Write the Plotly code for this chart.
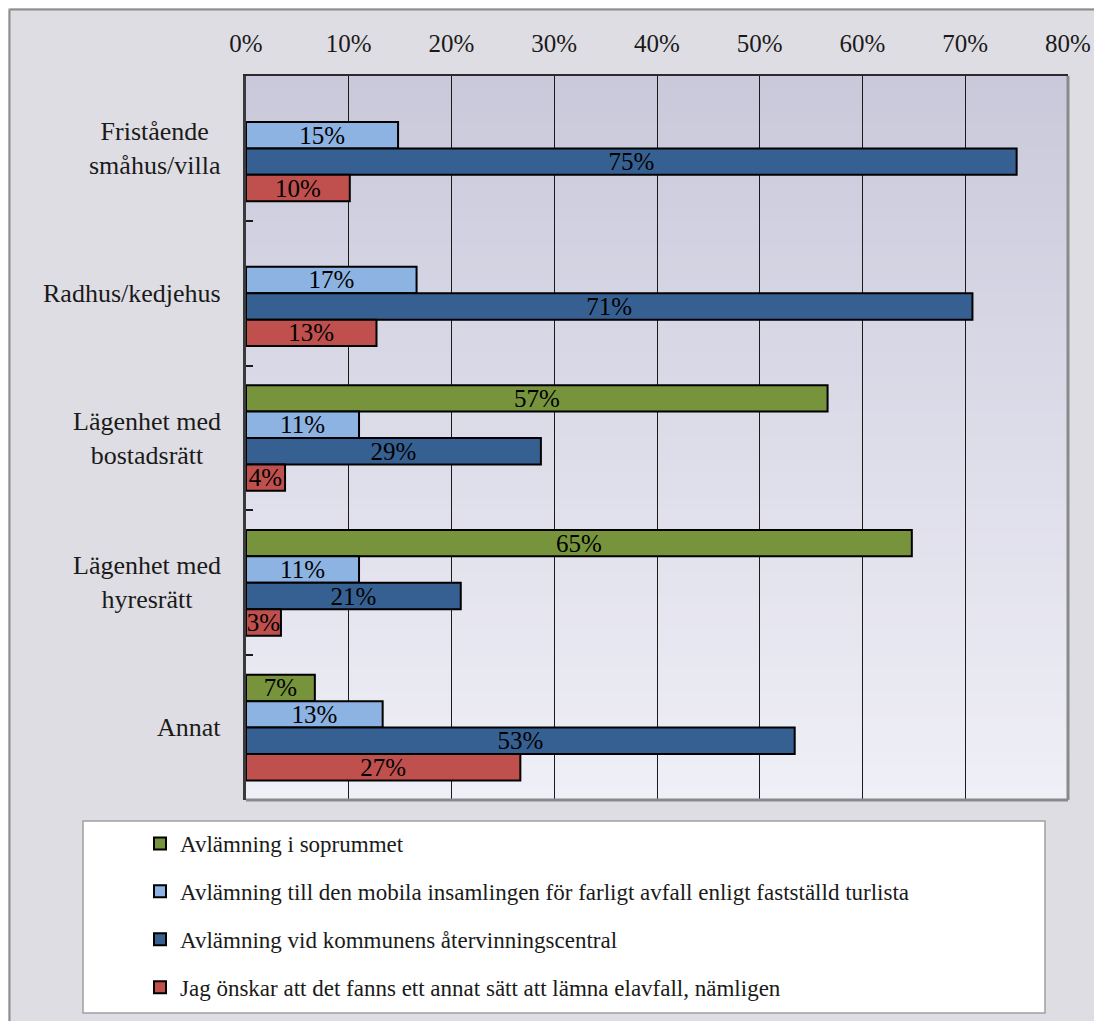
import plotly.graph_objects as go

categories = ["Fristående<br>småhus/villa", "Radhus/kedjehus", "Lägenhet med<br>bostadsrätt",
              "Lägenhet med<br>hyresrätt", "Annat"]
series_names = ["Avlämning i soprummet",
                "Avlämning till den mobila insamlingen för farligt avfall enligt fastställd turlista",
                "Avlämning vid kommunens återvinningscentral",
                "Jag önskar att det fanns ett annat sätt att lämna elavfall, nämligen"]
soprum = [None, None, 56.6, 64.8, 6.7]
mobila = [14.8, 16.6, 11.0, 11.0, 13.3]
atervinning = [75.0, 70.7, 28.7, 20.9, 53.4]
annat_satt = [10.1, 12.7, 3.8, 3.4, 26.7]
series_values = [soprum, mobila, atervinning, annat_satt]
colors = ["#77933c", "#8db3e2", "#366092", "#c0504d"]
x_ticks = [0, 10, 20, 30, 40, 50, 60, 70, 80]
x_tick_labels = ["0%", "10%", "20%", "30%", "40%", "50%", "60%", "70%", "80%"]

FONT = "Liberation Serif"
W, H = 1102, 1021
OFF = 8  # page body margin
# plot area in page pixels: left 246, right 1068, top 76, bottom 800
L, R, T, B = 246 - OFF, W - (1068 - OFF), 76 - OFF, H - (800 - OFF)
pw, ph = W - L - R, H - T - B

def px_x(p):
    return (p - OFF - L) / pw

def px_y(p):
    return (H - B - (p - OFF)) / ph

fig = go.Figure()
for name, vals, col in zip(series_names, series_values, colors):
    fig.add_trace(go.Bar(
        y=categories, x=vals, name=name, orientation="h",
        marker=dict(color=col, line=dict(color="black", width=2)),
        texttemplate="%{x:.0f}%", textposition="inside", insidetextanchor="middle",
        constraintext="none", cliponaxis=False,
        textfont=dict(family=FONT, size=25, color="black"),
        legendgroup=name,
    ))

shapes = []
# outer frame border (top & left edge)
shapes.append(dict(type="line", xref="paper", yref="paper", x0=px_x(9.5), x1=px_x(1110),
                   y0=px_y(9.5), y1=px_y(9.5), line=dict(color="#8c8c8c", width=2), layer="below"))
shapes.append(dict(type="line", xref="paper", yref="paper", x0=px_x(9.5), x1=px_x(9.5),
                   y0=px_y(9.5), y1=px_y(1040), line=dict(color="#8c8c8c", width=2), layer="below"))
# gradient plot background
n = 60
c0 = (202, 201, 219)
c1 = (239, 239, 247)
for i in range(n):
    t = i / (n - 1)
    c = tuple(round(a + (b - a) * t) for a, b in zip(c0, c1))
    shapes.append(dict(type="rect", xref="paper", yref="paper", x0=0, x1=1,
                       y0=1 - (i + 1) / n, y1=1 - i / n + 0.001,
                       fillcolor="rgb(%d,%d,%d)" % c, line=dict(width=0), layer="below"))
# right/bottom gray border
shapes.append(dict(type="line", xref="paper", yref="paper", x0=1, x1=1, y0=0, y1=1,
                   line=dict(color="#8a8a8a", width=3)))
shapes.append(dict(type="line", xref="paper", yref="paper", x0=0, x1=1, y0=0, y1=0,
                   line=dict(color="#8a8a8a", width=3)))
# legend box
shapes.append(dict(type="rect", xref="paper", yref="paper", x0=px_x(83), x1=px_x(1045),
                   y0=px_y(1013), y1=px_y(821), fillcolor="white",
                   line=dict(color="#a0a0a0", width=1.5), layer="below"))

annotations = []
for cat in categories:
    annotations.append(dict(text=cat, xref="paper", yref="y", x=px_x(223), y=cat,
                            xanchor="right", yanchor="middle", align="center",
                            showarrow=False, font=dict(family=FONT, size=26, color="#1a1a1a")))

fig.update_layout(
    width=W, height=H,
    margin=dict(l=L, r=R, t=T, b=B),
    paper_bgcolor="#dedde3", plot_bgcolor="rgba(0,0,0,0)",
    barmode="group", bargap=0.27, bargroupgap=0,
    font=dict(family=FONT, size=23, color="#1a1a1a"),
    shapes=shapes, annotations=annotations,
    legend=dict(x=px_x(140), y=px_y(822), xanchor="left", yanchor="top",
                bgcolor="rgba(0,0,0,0)", borderwidth=0, traceorder="grouped",
                tracegroupgap=15, itemwidth=30,
                font=dict(family=FONT, size=23, color="#1a1a1a")),
    showlegend=True,
)
fig.update_xaxes(side="top", range=[0, 80], tickmode="array", tickvals=x_ticks, ticktext=x_tick_labels,
                 showgrid=True, gridcolor="#1a1a1a", gridwidth=1, zeroline=False,
                 showline=True, linecolor="#2a2a2a", linewidth=2, ticks="",
                 ticklabelstandoff=12, tickfont=dict(family=FONT, size=25, color="#1a1a1a"))
fig.update_yaxes(autorange="reversed", showticklabels=False, tickson="boundaries",
                 ticks="inside", ticklen=7, tickcolor="#1a1a1a", tickwidth=2,
                 showgrid=False, showline=True, linecolor="#3a3a3a", linewidth=3)

fig.write_html("out.html")
